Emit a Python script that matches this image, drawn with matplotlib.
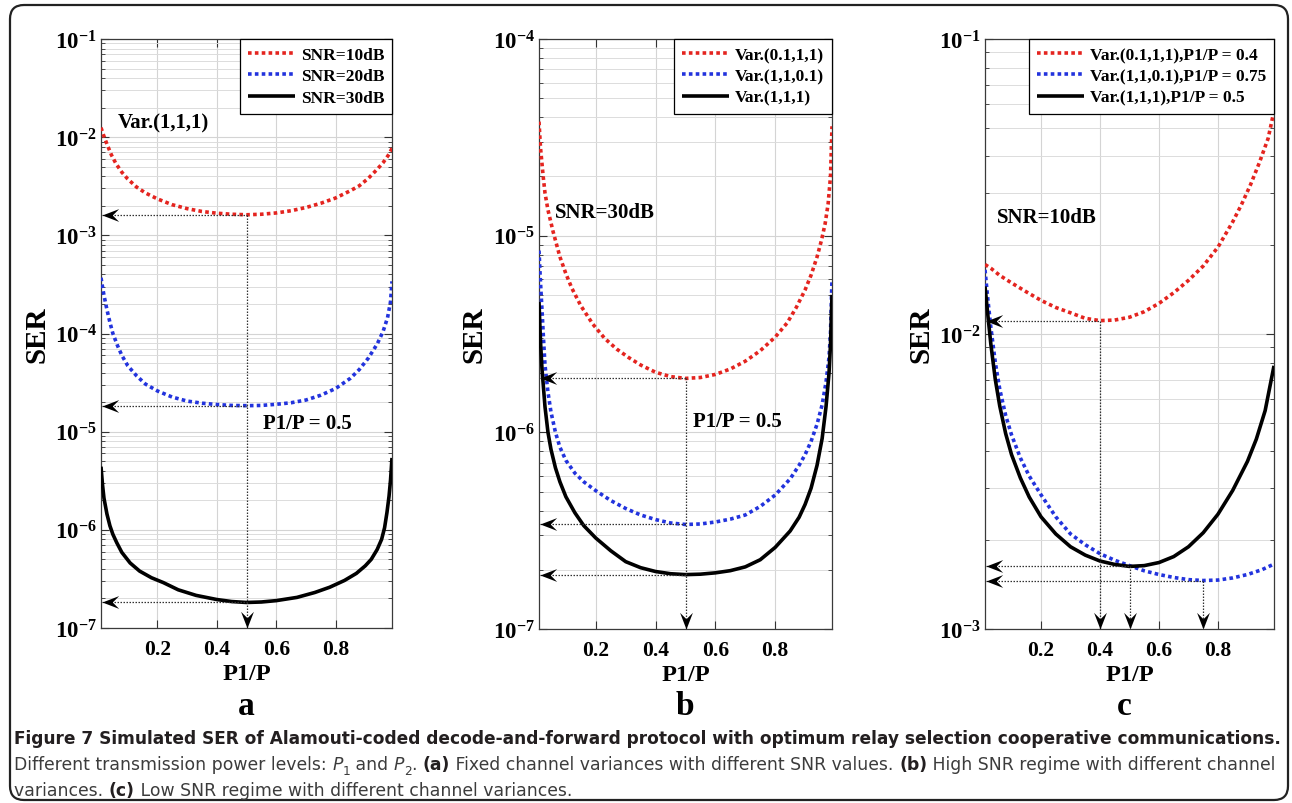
import numpy as np
import matplotlib
matplotlib.use('Agg')
import matplotlib.pyplot as plt
from matplotlib import font_manager as fm
from matplotlib.path import Path
from matplotlib.patches import FancyBboxPatch
from matplotlib.ticker import LogLocator, NullFormatter
from matplotlib.transforms import IdentityTransform

# --- Data ---
# panel a: Var.(1,1,1), different SNR
xa_10 = [0.01, 0.02, 0.03, 0.045, 0.06, 0.08, 0.1, 0.13, 0.16, 0.2, 0.25, 0.3, 0.35, 0.4, 0.45, 0.5,
         0.55, 0.6, 0.65, 0.7, 0.75, 0.8, 0.85, 0.88, 0.91, 0.94, 0.96, 0.98, 0.99]
sa_10 = [1.25e-2, 1.02e-2, 8.5e-3, 6.6e-3, 5.4e-3, 4.4e-3, 3.75e-3, 3.1e-3, 2.7e-3, 2.35e-3, 2.05e-3,
         1.87e-3, 1.75e-3, 1.68e-3, 1.64e-3, 1.62e-3, 1.64e-3, 1.69e-3, 1.78e-3, 1.92e-3, 2.12e-3,
         2.4e-3, 2.85e-3, 3.2e-3, 3.8e-3, 4.7e-3, 5.5e-3, 6.7e-3, 7.7e-3]
xa_20 = [0.01, 0.015, 0.02, 0.03, 0.04, 0.05, 0.065, 0.08, 0.1, 0.13, 0.16, 0.2, 0.25, 0.3, 0.35, 0.4,
         0.45, 0.5, 0.55, 0.6, 0.65, 0.7, 0.75, 0.8, 0.85, 0.88, 0.91, 0.94, 0.96, 0.975, 0.985, 0.99]
sa_20 = [3.7e-4, 3.0e-4, 2.45e-4, 1.75e-4, 1.3e-4, 1.0e-4, 7.6e-5, 6.0e-5, 4.7e-5, 3.7e-5, 3.05e-5,
         2.6e-5, 2.25e-5, 2.05e-5, 1.95e-5, 1.89e-5, 1.85e-5, 1.84e-5, 1.85e-5, 1.9e-5, 1.97e-5, 2.1e-5,
         2.35e-5, 2.75e-5, 3.5e-5, 4.3e-5, 5.6e-5, 7.8e-5, 1.05e-4, 1.45e-4, 2.1e-4, 3.4e-4]
xa_30 = [0.01, 0.015, 0.02, 0.03, 0.04, 0.05, 0.063, 0.08, 0.108, 0.14, 0.18, 0.22, 0.27, 0.33, 0.4, 0.45,
         0.5, 0.55, 0.6, 0.67, 0.73, 0.78, 0.83, 0.87, 0.9, 0.92, 0.94, 0.955, 0.965, 0.973, 0.98, 0.985,
         0.99]
sa_30 = [4.4e-6, 2.9e-6, 2.1e-6, 1.45e-6, 1.1e-6, 9.0e-7, 7.4e-7, 5.9e-7, 4.6e-7, 3.8e-7, 3.25e-7, 2.9e-7,
         2.45e-7, 2.15e-7, 1.95e-7, 1.86e-7, 1.82e-7, 1.84e-7, 1.9e-7, 2.05e-7, 2.3e-7, 2.6e-7, 3.05e-7,
         3.6e-7, 4.3e-7, 5.0e-7, 6.3e-7, 8.0e-7, 1.05e-6, 1.5e-6, 2.2e-6, 3.2e-6, 5.4e-6]

# panel b: SNR=30dB, different channel variances
xb_r = [0.01, 0.015, 0.024, 0.03, 0.04, 0.057, 0.08, 0.1, 0.12, 0.15, 0.19, 0.23, 0.27, 0.31, 0.35, 0.4,
        0.45, 0.5, 0.55, 0.6, 0.65, 0.7, 0.75, 0.8, 0.84, 0.87, 0.9, 0.92, 0.94, 0.955, 0.967, 0.977,
        0.985, 0.99]
sb_r = [3.8e-5, 2.8e-5, 2.0e-5, 1.65e-5, 1.35e-5, 1.05e-5, 7.8e-6, 6.4e-6, 5.4e-6, 4.4e-6, 3.55e-6,
        3.0e-6, 2.65e-6, 2.4e-6, 2.2e-6, 2.02e-6, 1.92e-6, 1.88e-6, 1.9e-6, 1.97e-6, 2.1e-6, 2.3e-6,
        2.6e-6, 3.05e-6, 3.6e-6, 4.3e-6, 5.3e-6, 6.3e-6, 7.8e-6, 9.5e-6, 1.15e-5, 1.45e-5, 2.0e-5, 3.6e-5]
xb_b = [0.01, 0.015, 0.02, 0.025, 0.03, 0.04, 0.05, 0.065, 0.08, 0.1, 0.13, 0.16, 0.2, 0.25, 0.3, 0.35,
        0.4, 0.45, 0.5, 0.55, 0.6, 0.65, 0.7, 0.75, 0.8, 0.85, 0.88, 0.9, 0.92, 0.94, 0.957, 0.97, 0.98,
        0.985, 0.99]
sb_b = [8.4e-6, 5.8e-6, 4.2e-6, 3.0e-6, 2.2e-6, 1.6e-6, 1.27e-6, 1.0e-6, 8.4e-7, 7.2e-7, 6.2e-7, 5.6e-7,
        5.05e-7, 4.5e-7, 4.1e-7, 3.8e-7, 3.6e-7, 3.46e-7, 3.4e-7, 3.42e-7, 3.5e-7, 3.62e-7, 3.8e-7,
        4.2e-7, 4.8e-7, 5.8e-7, 6.8e-7, 7.7e-7, 9.0e-7, 1.1e-6, 1.38e-6, 1.8e-6, 2.4e-6, 3.2e-6, 6.0e-6]
xb_k = [0.01, 0.015, 0.02, 0.03, 0.04, 0.05, 0.065, 0.08, 0.1, 0.13, 0.16, 0.2, 0.25, 0.3, 0.35, 0.4,
        0.45, 0.5, 0.55, 0.6, 0.65, 0.7, 0.75, 0.8, 0.85, 0.88, 0.9, 0.92, 0.94, 0.957, 0.97, 0.98, 0.985,
        0.99]
sb_k = [4.6e-6, 2.9e-6, 2.1e-6, 1.35e-6, 1.0e-6, 8.2e-7, 6.6e-7, 5.6e-7, 4.7e-7, 3.9e-7, 3.35e-7, 2.9e-7,
        2.5e-7, 2.2e-7, 2.05e-7, 1.96e-7, 1.91e-7, 1.89e-7, 1.9e-7, 1.93e-7, 1.98e-7, 2.07e-7, 2.25e-7,
        2.6e-7, 3.15e-7, 3.7e-7, 4.3e-7, 5.2e-7, 6.8e-7, 9.3e-7, 1.35e-6, 2.0e-6, 2.8e-6, 5.0e-6]

# panel c: SNR=10dB, different channel variances
xc_r = [0.01, 0.03, 0.06, 0.1, 0.15, 0.2, 0.25, 0.3, 0.35, 0.4, 0.45, 0.5, 0.55, 0.6, 0.65, 0.7, 0.75,
        0.8, 0.85, 0.88, 0.91, 0.94, 0.97, 0.99]
sc_r = [1.72e-2, 1.67e-2, 1.58e-2, 1.49e-2, 1.39e-2, 1.3e-2, 1.23e-2, 1.18e-2, 1.13e-2, 1.11e-2, 1.115e-2,
        1.14e-2, 1.19e-2, 1.27e-2, 1.38e-2, 1.52e-2, 1.7e-2, 1.97e-2, 2.4e-2, 2.75e-2, 3.2e-2, 3.8e-2,
        4.6e-2, 5.7e-2]
xc_b = [0.01, 0.02, 0.03, 0.045, 0.06, 0.08, 0.1, 0.13, 0.16, 0.2, 0.25, 0.3, 0.35, 0.4, 0.45, 0.5, 0.55,
        0.6, 0.65, 0.7, 0.75, 0.8, 0.85, 0.9, 0.95, 0.99]
sc_b = [1.65e-2, 1.3e-2, 1.05e-2, 8.0e-3, 6.5e-3, 5.3e-3, 4.55e-3, 3.8e-3, 3.3e-3, 2.85e-3, 2.4e-3,
        2.1e-3, 1.93e-3, 1.8e-3, 1.71e-3, 1.64e-3, 1.575e-3, 1.53e-3, 1.495e-3, 1.47e-3, 1.46e-3,
        1.465e-3, 1.49e-3, 1.53e-3, 1.59e-3, 1.66e-3]
xc_k = [0.01, 0.02, 0.03, 0.045, 0.06, 0.08, 0.1, 0.13, 0.16, 0.2, 0.25, 0.3, 0.35, 0.4, 0.45, 0.5, 0.55,
        0.6, 0.65, 0.7, 0.75, 0.8, 0.85, 0.9, 0.93, 0.96, 0.99]
sc_k = [1.45e-2, 1.15e-2, 9.2e-3, 7.0e-3, 5.7e-3, 4.6e-3, 3.9e-3, 3.25e-3, 2.8e-3, 2.4e-3, 2.1e-3,
        1.9e-3, 1.78e-3, 1.7e-3, 1.655e-3, 1.63e-3, 1.64e-3, 1.68e-3, 1.76e-3, 1.9e-3, 2.12e-3, 2.45e-3,
        2.95e-3, 3.7e-3, 4.4e-3, 5.5e-3, 7.8e-3]

XTICKS = [0.2, 0.4, 0.6, 0.8]
XTICK_LABELS = ['0.2', '0.4', '0.6', '0.8']

# --- Style ---
SERIF = 'Liberation Serif'
CAP_FONT = 'DejaVu Sans'

plt.rcParams.update({
    'font.family': SERIF,
    'font.weight': 'bold',
    'mathtext.fontset': 'custom',
    'mathtext.bf': 'Liberation Serif:bold',
    'mathtext.rm': 'Liberation Serif:bold',
    'lines.solid_capstyle': 'butt',
})

RED, BLUE, BLACK = '#e4241f', '#2233dd', '#000000'
DOT = (0, (1.0, 0.9))

W, H = 1292, 804
fig = plt.figure(figsize=(W / 100, H / 100), dpi=100)

# outer rounded frame
fig.patches.append(FancyBboxPatch((10, 3), 1278, 795, boxstyle='round,pad=0,rounding_size=14',
                                  transform=IdentityTransform(), fill=False, ec='#222222', lw=1.6))

LEFT_HEAD = Path([(0, 0), (1.3, 0.5), (0.8, 0), (1.3, -0.5), (0, 0)],
                 [Path.MOVETO, Path.LINETO, Path.LINETO, Path.LINETO, Path.CLOSEPOLY])
DOWN_HEAD = Path([(0, 0), (0.5, 1.3), (0, 0.8), (-0.5, 1.3), (0, 0)],
                 [Path.MOVETO, Path.LINETO, Path.LINETO, Path.LINETO, Path.CLOSEPOLY])


def make_ax(l, r, t, b, ylo, yhi):
    ax = fig.add_axes([l / W, 1 - b / H, (r - l) / W, (b - t) / H])
    ax.set_yscale('log')
    ax.set_xlim(0.01, 0.99)
    ax.set_ylim(ylo, yhi)
    exps = range(int(round(np.log10(ylo))), int(round(np.log10(yhi))) + 1)
    ax.set_yticks([10.0 ** e for e in exps], [r'$\mathbf{10^{%d}}$' % e for e in exps])
    ax.yaxis.set_minor_locator(LogLocator(base=10, subs=np.arange(2, 10), numticks=20))
    ax.yaxis.set_minor_formatter(NullFormatter())
    ax.set_xticks(XTICKS, XTICK_LABELS)
    ax.tick_params(axis='both', which='both', direction='in', top=True, right=True, colors='#333333')
    ax.tick_params(axis='y', which='major', length=6, labelsize=16.5, pad=3, labelcolor='black')
    ax.tick_params(axis='y', which='minor', length=3)
    ax.tick_params(axis='x', which='major', length=6, labelsize=15.5, pad=8, labelcolor='black')
    ax.grid(True, which='major', color='#d4d4d4', lw=0.8)
    ax.grid(True, which='minor', axis='y', color='#dcdcdc', lw=0.7)
    ax.set_axisbelow(True)
    for sp in ax.spines.values():
        sp.set_color('#3a3a3a')
        sp.set_linewidth(0.9)
    ax.set_ylabel('SER', fontsize=21, fontweight='bold')
    ax.yaxis.set_label_coords(-0.175, 0.5)
    ax.set_xlabel('P1/P', fontsize=17.5, fontweight='bold')
    ax.xaxis.set_label_coords(0.5, -0.077)
    ax.xaxis.label.set_va('center')
    return ax


def arrows(ax, xs, ys, down=True):
    i = int(np.argmin(ys))
    xm, ym = xs[i], ys[i]
    x_tip = 0.013
    ax.plot([x_tip, xm], [ym, ym], ls=(0, (1.2, 1.2)), color='#333333', lw=0.9, zorder=4)
    ax.plot([x_tip], [ym], marker=LEFT_HEAD, ms=24, color='black', mew=0, zorder=5, clip_on=False)
    if down:
        ylo = ax.get_ylim()[0]
        ax.plot([xm, xm], [ym, ylo], ls=(0, (1.2, 1.2)), color='#333333', lw=0.9, zorder=4)
        ax.plot([xm], [ylo], marker=DOWN_HEAD, ms=24, color='black', mew=0, zorder=5, clip_on=False)


def curves(ax, data, labels):
    styles = [dict(color=RED, lw=2.6, ls=DOT), dict(color=BLUE, lw=2.6, ls=DOT),
              dict(color=BLACK, lw=2.6, ls='-')]
    for (xs, ys), lab, st in zip(data, labels, styles):
        ax.plot(xs, ys, label=lab, zorder=3, **st)
    leg = ax.legend(loc='upper right', bbox_to_anchor=(1, 1), borderaxespad=0, fancybox=False,
                    framealpha=1, edgecolor='black', handlelength=2.7, handletextpad=0.35,
                    labelspacing=0.3, borderpad=0.45, prop=dict(family=SERIF, weight='bold', size=12.5))
    leg.get_frame().set_linewidth(0.9)
    leg.set_zorder(6)


# Panel a
ax1 = make_ax(101, 392, 40, 629, 1e-7, 1e-1)
curves(ax1, [(xa_10, sa_10), (xa_20, sa_20), (xa_30, sa_30)], ['SNR=10dB', 'SNR=20dB', 'SNR=30dB'])
arrows(ax1, xa_10, sa_10, down=True)
arrows(ax1, xa_20, sa_20, down=False)
arrows(ax1, xa_30, sa_30, down=False)
ax1.text(0.067, 1.4e-2, 'Var.(1,1,1)', fontsize=15, fontweight='bold', va='center', ha='left')
ax1.text(0.555, 1.23e-5, 'P1/P = 0.5', fontsize=15, fontweight='bold', va='center', ha='left')

# Panel b
ax2 = make_ax(539, 832, 40, 630, 1e-7, 1e-4)
curves(ax2, [(xb_r, sb_r), (xb_b, sb_b), (xb_k, sb_k)], ['Var.(0.1,1,1)', 'Var.(1,1,0.1)', 'Var.(1,1,1)'])
arrows(ax2, xb_r, sb_r, down=True)
arrows(ax2, xb_b, sb_b, down=False)
arrows(ax2, xb_k, sb_k, down=False)
ax2.text(0.064, 1.32e-5, 'SNR=30dB', fontsize=15, fontweight='bold', va='center', ha='left')
ax2.text(0.525, 1.14e-6, 'P1/P = 0.5', fontsize=15, fontweight='bold', va='center', ha='left')

# Panel c
ax3 = make_ax(985, 1274, 40, 630, 1e-3, 1e-1)
curves(ax3, [(xc_r, sc_r), (xc_b, sc_b), (xc_k, sc_k)],
       ['Var.(0.1,1,1),P1/P = 0.4', 'Var.(1,1,0.1),P1/P = 0.75', 'Var.(1,1,1),P1/P = 0.5'])
arrows(ax3, xc_r, sc_r, down=True)
arrows(ax3, xc_b, sc_b, down=True)
arrows(ax3, xc_k, sc_k, down=True)
ax3.text(0.05, 2.5e-2, 'SNR=10dB', fontsize=15, fontweight='bold', va='center', ha='left')

for lab, px in zip(['a', 'b', 'c'], [246, 685, 1124]):
    fig.text(px / W, 1 - 707 / H, lab, fontsize=24, fontweight='bold', ha='center', va='center')

# --- Caption ---
renderer = fig.canvas.get_renderer()


def run_props(style, size):
    fp = fm.FontProperties(family=CAP_FONT, size=size,
                           weight='bold' if style == 'bold' else 'normal',
                           style='italic' if style == 'italic' else 'normal')
    if style == 'sub':
        fp.set_size(size * 0.7)
    return fp


def advance(s, fp):
    w1 = renderer.get_text_width_height_descent(s + 'l', fp, ismath=False)[0]
    w0 = renderer.get_text_width_height_descent('l', fp, ismath=False)[0]
    return w1 - w0


def line_width(runs, size):
    return sum(advance(s, run_props(st, size)) for s, st in runs)


def fit_size(runs, target):
    fs = 10.0
    for _ in range(4):
        fs *= target / line_width(runs, fs)
    while line_width(runs, fs) > target:
        fs -= 0.05
    return fs


def put_runs(runs, x0, y, size):
    x = x0
    for s, st in runs:
        fp = run_props(st, size)
        dy = -size * 0.3 * 100 / 72 if st == 'sub' else 0
        color = '#231f20' if st == 'bold' else '#3c3c3c'
        fig.text(x / W, (H - y + dy) / H, s, fontproperties=fp, color=color,
                 ha='left', va='baseline')
        x += advance(s, fp)


cap1 = [('Figure 7 Simulated SER of Alamouti-coded decode-and-forward protocol with optimum relay '
         'selection cooperative communications.', 'bold')]
cap2 = [('Different transmission power levels: ', 'normal'), ('P', 'italic'), ('1', 'sub'),
        (' and ', 'normal'), ('P', 'italic'), ('2', 'sub'), ('. ', 'normal'), ('(a)', 'bold'),
        (' Fixed channel variances with different SNR values. ', 'normal'), ('(b)', 'bold'),
        (' High SNR regime with different channel', 'normal')]
cap3 = [('variances. ', 'normal'), ('(c)', 'bold'),
        (' Low SNR regime with different channel variances.', 'normal')]

fs1 = fit_size(cap1, 1268)
fs2 = fit_size(cap2, 1264)
put_runs(cap1, 14, 744, fs1)
put_runs(cap2, 14, 770, fs2)
put_runs(cap3, 14, 796, fs2)

fig.savefig('out.png', dpi=100)
